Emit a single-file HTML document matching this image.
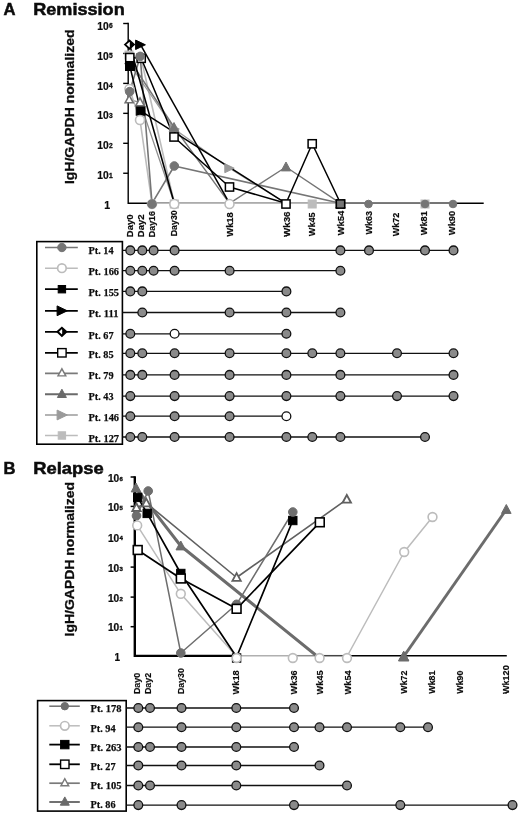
<!DOCTYPE html>
<html><head><meta charset="utf-8"><title>Figure</title>
<style>
html,body{margin:0;padding:0;background:#fff;}
body{width:520px;height:815px;overflow:hidden;font-family:"Liberation Sans",sans-serif;}
svg{display:block;filter:grayscale(1);}
text{font-family:"Liberation Sans",sans-serif;font-weight:bold;fill:#0c0c0c;}
.ser{font-family:"Liberation Serif",serif;font-weight:bold;font-size:11.2px;fill:#0c0c0c;stroke:#0c0c0c;stroke-width:0.25px;}
.ttl{font-size:16.6px;stroke:#0c0c0c;stroke-width:0.5px;}
.yl{font-size:12.9px;stroke:#0c0c0c;stroke-width:0.3px;}
.tk{font-size:10.6px;stroke:#0c0c0c;stroke-width:0.2px;}
.tkb{font-size:10px;stroke:#0c0c0c;stroke-width:0.2px;}
.ex{font-size:6.6px;stroke-width:0.3px;}
.exb{font-size:6px;stroke-width:0.35px;}
.xl{font-size:9.8px;stroke:#0c0c0c;stroke-width:0.2px;}
.xlb{font-size:8.2px;stroke:#0c0c0c;stroke-width:0.15px;}
</style></head><body>
<svg width="520" height="815" viewBox="0 0 520 815">
<rect width="520" height="815" fill="#fff"/>

<text class="ttl" x="3.6" y="14.5">A</text>
<text class="ttl" x="33.2" y="14.5" textLength="91.5" lengthAdjust="spacingAndGlyphs">Remission</text>
<text class="ttl" x="3.4" y="474">B</text>
<text class="ttl" x="33.2" y="474" textLength="70.5" lengthAdjust="spacingAndGlyphs">Relapse</text>
<text class="yl" transform="translate(73.6,106.8) rotate(-90)" text-anchor="middle" textLength="154.5" lengthAdjust="spacingAndGlyphs">IgH/GAPDH normalized</text>
<text class="yl" transform="translate(73.6,559.2) rotate(-90)" text-anchor="middle" textLength="154.5" lengthAdjust="spacingAndGlyphs">IgH/GAPDH normalized</text>
<path d="M128.2,22.8 L128.2,203.2 L483.7,203.2" fill="none" stroke="#000" stroke-width="1.4"/>
<line x1="123.19999999999999" y1="173.25" x2="128.2" y2="173.25" stroke="#000" stroke-width="1.4"/>
<line x1="123.19999999999999" y1="143.29999999999998" x2="128.2" y2="143.29999999999998" stroke="#000" stroke-width="1.4"/>
<line x1="123.19999999999999" y1="113.35" x2="128.2" y2="113.35" stroke="#000" stroke-width="1.4"/>
<line x1="123.19999999999999" y1="83.39999999999999" x2="128.2" y2="83.39999999999999" stroke="#000" stroke-width="1.4"/>
<line x1="123.19999999999999" y1="53.44999999999999" x2="128.2" y2="53.44999999999999" stroke="#000" stroke-width="1.4"/>
<line x1="123.19999999999999" y1="23.5" x2="128.2" y2="23.5" stroke="#000" stroke-width="1.4"/>
<text class="tk" x="104.3" y="209.29999999999998">1</text>
<text class="tk" x="97.2" y="179.35"><tspan textLength="11.5" lengthAdjust="spacingAndGlyphs">10</tspan><tspan class="ex" dx="0.3" dy="-1.5">1</tspan></text>
<text class="tk" x="97.2" y="149.39999999999998"><tspan textLength="11.5" lengthAdjust="spacingAndGlyphs">10</tspan><tspan class="ex" dx="0.3" dy="-1.5">2</tspan></text>
<text class="tk" x="97.2" y="119.44999999999999"><tspan textLength="11.5" lengthAdjust="spacingAndGlyphs">10</tspan><tspan class="ex" dx="0.3" dy="-1.5">3</tspan></text>
<text class="tk" x="97.2" y="89.49999999999999"><tspan textLength="11.5" lengthAdjust="spacingAndGlyphs">10</tspan><tspan class="ex" dx="0.3" dy="-1.5">4</tspan></text>
<text class="tk" x="97.2" y="59.54999999999999"><tspan textLength="11.5" lengthAdjust="spacingAndGlyphs">10</tspan><tspan class="ex" dx="0.3" dy="-1.5">5</tspan></text>
<text class="tk" x="97.2" y="29.6"><tspan textLength="11.5" lengthAdjust="spacingAndGlyphs">10</tspan><tspan class="ex" dx="0.3" dy="-1.5">6</tspan></text>
<text class="xl" transform="translate(133.20000000000002,237.2) rotate(-90)" text-anchor="start" textLength="22.8" lengthAdjust="spacingAndGlyphs">Day0</text>
<text class="xl" transform="translate(143.9,237.2) rotate(-90)" text-anchor="start" textLength="22.8" lengthAdjust="spacingAndGlyphs">Day2</text>
<text class="xl" transform="translate(155.3,237.2) rotate(-90)" text-anchor="start" textLength="26.2" lengthAdjust="spacingAndGlyphs">Day16</text>
<text class="xl" transform="translate(177.1,236.3) rotate(-90)" text-anchor="start" textLength="26.0" lengthAdjust="spacingAndGlyphs">Day30</text>
<text class="xl" transform="translate(232.5,236.7) rotate(-90)" text-anchor="start" textLength="24.5" lengthAdjust="spacingAndGlyphs">Wk18</text>
<text class="xl" transform="translate(289.59999999999997,237) rotate(-90)" text-anchor="start" textLength="25.5" lengthAdjust="spacingAndGlyphs">Wk36</text>
<text class="xl" transform="translate(315.2,236.2) rotate(-90)" text-anchor="start" textLength="23.8" lengthAdjust="spacingAndGlyphs">Wk45</text>
<text class="xl" transform="translate(343.59999999999997,235.6) rotate(-90)" text-anchor="start" textLength="25.0" lengthAdjust="spacingAndGlyphs">Wk54</text>
<text class="xl" transform="translate(371.59999999999997,234.6) rotate(-90)" text-anchor="start" textLength="23.5" lengthAdjust="spacingAndGlyphs">Wk63</text>
<text class="xl" transform="translate(399.09999999999997,236.2) rotate(-90)" text-anchor="start" textLength="23.5" lengthAdjust="spacingAndGlyphs">Wk72</text>
<text class="xl" transform="translate(427.0,235.2) rotate(-90)" text-anchor="start" textLength="24.0" lengthAdjust="spacingAndGlyphs">Wk81</text>
<text class="xl" transform="translate(455.09999999999997,235.2) rotate(-90)" text-anchor="start" textLength="24.5" lengthAdjust="spacingAndGlyphs">Wk90</text>
<path d="M129.5,55.0 L141.0,58.0 L174.3,203.3 L425.0,203.3" fill="none" stroke="#bcbcbc" stroke-width="1.6" stroke-linejoin="round"/>
<path d="M129.5,64.0 L174.3,129.0 L229.5,168.2 L286.0,203.3" fill="none" stroke="#9a9a9a" stroke-width="1.3" stroke-linejoin="round"/>
<path d="M129.5,60.0 L174.3,127.5 L229.5,203.3 L286.0,167.0 L340.5,203.3 L453.0,203.3" fill="none" stroke="#757575" stroke-width="1.4" stroke-linejoin="round"/>
<path d="M129.2,99.6 L140.0,102.4 L174.3,203.3" fill="none" stroke="#8e8e8e" stroke-width="1.3" stroke-linejoin="round"/>
<path d="M129.5,89.0 L140.0,120.0 L152.0,203.3 L340.5,203.3" fill="none" stroke="#bcbcbc" stroke-width="1.6" stroke-linejoin="round"/>
<path d="M129.7,91.6 L140.2,56.4 L152.0,203.3 L174.3,166.0 L340.5,203.3 L453.0,203.3" fill="none" stroke="#757575" stroke-width="1.6" stroke-linejoin="round"/>
<path d="M129.8,66.0 L140.6,110.8 L286.0,203.3" fill="none" stroke="#000" stroke-width="1.5" stroke-linejoin="round"/>
<path d="M140.5,44.6 L229.5,203.3" fill="none" stroke="#000" stroke-width="1.5" stroke-linejoin="round"/>
<path d="M129.5,44.1 L174.3,203.3" fill="none" stroke="#000" stroke-width="1.6" stroke-linejoin="round"/>
<path d="M129.8,57.6 L141.2,58.3 L174.0,137.0 L229.5,187.0 L286.0,203.3 L312.2,143.8 L340.5,203.3" fill="none" stroke="#000" stroke-width="1.5" stroke-linejoin="round"/>
<rect x="125.00" y="51.00" width="8.0" height="8.0" fill="#bcbcbc" stroke="#bcbcbc" stroke-width="1"/>
<rect x="137.00" y="54.00" width="8.0" height="8.0" fill="#bcbcbc" stroke="#bcbcbc" stroke-width="1"/>
<rect x="170.30" y="200.00" width="8.0" height="8.0" fill="#bcbcbc" stroke="#bcbcbc" stroke-width="1"/>
<rect x="308.20" y="200.00" width="8.0" height="8.0" fill="#bcbcbc" stroke="#bcbcbc" stroke-width="1"/>
<rect x="421.00" y="200.00" width="8.0" height="8.0" fill="#bcbcbc" stroke="#bcbcbc" stroke-width="1"/>
<path d="M169.90,124.50 L179.30,129 L169.90,133.50 Z" fill="#9a9a9a" stroke="#9a9a9a" stroke-width="1"/>
<path d="M224.80,163.70 L234.20,168.2 L224.80,172.70 Z" fill="#9a9a9a" stroke="#9a9a9a" stroke-width="1"/>
<path d="M124.70,63.90 L134.30,63.90 L129.5,55.00 Z" fill="#757575" stroke="#757575" stroke-width="1"/>
<path d="M169.20,131.40 L178.80,131.40 L174,122.50 Z" fill="#757575" stroke="#757575" stroke-width="1"/>
<path d="M281.20,170.90 L290.80,170.90 L286,162.00 Z" fill="#757575" stroke="#757575" stroke-width="1"/>
<path d="M335.70,207.90 L345.30,207.90 L340.5,199.00 Z" fill="#757575" stroke="#757575" stroke-width="1"/>
<rect x="125.50" y="61.50" width="9.0" height="9.0" fill="#000" stroke="#000" stroke-width="1"/>
<rect x="136.20" y="106.40" width="8.8" height="8.8" fill="#000" stroke="#000" stroke-width="1"/>
<path d="M125.10,102.80 L133.30,102.80 L129.2,95.30 Z" fill="#fff" stroke="#707070" stroke-width="1.5"/>
<path d="M135.70,105.80 L144.30,105.80 L140,97.90 Z" fill="#fff" stroke="#707070" stroke-width="1.5"/>
<circle cx="129.5" cy="89" r="4.5" fill="#fff" stroke="#bcbcbc" stroke-width="1.6"/>
<circle cx="140" cy="120" r="4.5" fill="#fff" stroke="#bcbcbc" stroke-width="1.6"/>
<circle cx="152" cy="204.0" r="4.5" fill="#fff" stroke="#bcbcbc" stroke-width="1.6"/>
<circle cx="174.3" cy="204.0" r="4.5" fill="#fff" stroke="#bcbcbc" stroke-width="1.6"/>
<circle cx="229.5" cy="204.0" r="4.5" fill="#fff" stroke="#bcbcbc" stroke-width="1.6"/>
<rect x="125.70" y="53.50" width="8.2" height="8.2" fill="#fff" stroke="#000" stroke-width="1.5"/>
<rect x="137.10" y="54.20" width="8.2" height="8.2" fill="#fff" stroke="#000" stroke-width="1.5"/>
<rect x="169.90" y="132.90" width="8.2" height="8.2" fill="#fff" stroke="#000" stroke-width="1.5"/>
<rect x="225.40" y="182.90" width="8.2" height="8.2" fill="#fff" stroke="#000" stroke-width="1.5"/>
<rect x="281.90" y="199.90" width="8.2" height="8.2" fill="#fff" stroke="#000" stroke-width="1.5"/>
<rect x="308.10" y="139.70" width="8.2" height="8.2" fill="#fff" stroke="#000" stroke-width="1.5"/>
<rect x="336.40" y="199.90" width="8.2" height="8.2" fill="#fff" stroke="#000" stroke-width="1.5"/>
<circle cx="129.7" cy="91.6" r="4.3" fill="#757575" stroke="#757575" stroke-width="1"/>
<circle cx="140.2" cy="56.4" r="4.3" fill="#757575" stroke="#757575" stroke-width="1"/>
<circle cx="152" cy="204.0" r="4.3" fill="#757575" stroke="#757575" stroke-width="1"/>
<circle cx="174.3" cy="166" r="4.3" fill="#757575" stroke="#757575" stroke-width="1"/>
<circle cx="340.5" cy="204.0" r="4.3" fill="#757575" stroke="#757575" stroke-width="1"/>
<circle cx="368.5" cy="204.0" r="3.8" fill="#757575" stroke="#757575" stroke-width="1"/>
<circle cx="425" cy="204.0" r="3.8" fill="#757575" stroke="#757575" stroke-width="1"/>
<circle cx="453" cy="204.0" r="3.8" fill="#757575" stroke="#757575" stroke-width="1"/>
<path d="M135.60,40.10 L145.40,44.8 L135.60,49.50 Z" fill="#000" stroke="#000" stroke-width="1"/>
<path d="M125.00,44.6 L129.5,40.50 L134.00,44.6 L129.5,48.70 Z" fill="#fff" stroke="#000" stroke-width="1.7999999999999998"/><path d="M129.8,40.50 L134.00,44.6 L129.8,48.70 Z" fill="#000"/>
<rect x="336.4" y="199.9" width="8.2" height="8.2" fill="none" stroke="#000" stroke-width="1.4"/>
<rect x="36.8" y="241.6" width="85.6" height="202.6" fill="#fff" stroke="#000" stroke-width="1.6"/>
<line x1="45" y1="247.5" x2="77.8" y2="247.5" stroke="#757575" stroke-width="1.5"/>
<circle cx="61.9" cy="247.5" r="4.2" fill="#757575" stroke="#757575" stroke-width="1.0"/>
<text class="ser" x="88.5" y="254.1" textLength="25" lengthAdjust="spacingAndGlyphs">Pt. 14</text>
<line x1="122.5" y1="250.4" x2="453.5" y2="250.4" stroke="#111" stroke-width="1.3"/>
<circle cx="130.3" cy="250.4" r="4.4" fill="#8a8a8a" stroke="#111" stroke-width="1.3"/>
<circle cx="142.3" cy="250.4" r="4.4" fill="#8a8a8a" stroke="#111" stroke-width="1.3"/>
<circle cx="153.6" cy="250.4" r="4.4" fill="#8a8a8a" stroke="#111" stroke-width="1.3"/>
<circle cx="174.6" cy="250.4" r="4.4" fill="#8a8a8a" stroke="#111" stroke-width="1.3"/>
<circle cx="340.4" cy="250.4" r="4.4" fill="#8a8a8a" stroke="#111" stroke-width="1.3"/>
<circle cx="369" cy="250.4" r="4.4" fill="#8a8a8a" stroke="#111" stroke-width="1.3"/>
<circle cx="425" cy="250.4" r="4.4" fill="#8a8a8a" stroke="#111" stroke-width="1.3"/>
<circle cx="453.5" cy="250.4" r="4.4" fill="#8a8a8a" stroke="#111" stroke-width="1.3"/>
<line x1="45" y1="268.2" x2="77.8" y2="268.2" stroke="#bcbcbc" stroke-width="1.5"/>
<circle cx="61.9" cy="268.2" r="4.3" fill="#fff" stroke="#bcbcbc" stroke-width="1.7"/>
<text class="ser" x="88.5" y="274.6" textLength="30.5" lengthAdjust="spacingAndGlyphs">Pt. 166</text>
<line x1="122.5" y1="270.7" x2="340.4" y2="270.7" stroke="#111" stroke-width="1.3"/>
<circle cx="130.3" cy="270.7" r="4.4" fill="#8a8a8a" stroke="#111" stroke-width="1.3"/>
<circle cx="142.3" cy="270.7" r="4.4" fill="#8a8a8a" stroke="#111" stroke-width="1.3"/>
<circle cx="153.6" cy="270.7" r="4.4" fill="#8a8a8a" stroke="#111" stroke-width="1.3"/>
<circle cx="174.6" cy="270.7" r="4.4" fill="#8a8a8a" stroke="#111" stroke-width="1.3"/>
<circle cx="229.6" cy="270.7" r="4.4" fill="#8a8a8a" stroke="#111" stroke-width="1.3"/>
<circle cx="340.4" cy="270.7" r="4.4" fill="#8a8a8a" stroke="#111" stroke-width="1.3"/>
<line x1="45" y1="289.2" x2="77.8" y2="289.2" stroke="#000" stroke-width="1.8"/>
<rect x="58.20" y="285.50" width="7.4" height="7.4" fill="#000" stroke="#000" stroke-width="1.0"/>
<text class="ser" x="88.5" y="296.1" textLength="30.5" lengthAdjust="spacingAndGlyphs">Pt. 155</text>
<line x1="122.5" y1="291.4" x2="286.4" y2="291.4" stroke="#111" stroke-width="1.3"/>
<circle cx="130.3" cy="291.4" r="4.4" fill="#8a8a8a" stroke="#111" stroke-width="1.3"/>
<circle cx="142.3" cy="291.4" r="4.4" fill="#8a8a8a" stroke="#111" stroke-width="1.3"/>
<circle cx="286.4" cy="291.4" r="4.4" fill="#8a8a8a" stroke="#111" stroke-width="1.3"/>
<line x1="45" y1="310.8" x2="77.8" y2="310.8" stroke="#000" stroke-width="1.8"/>
<path d="M57.10,305.90 L67.30,310.8 L57.10,315.70 Z" fill="#000" stroke="#000" stroke-width="1.0"/>
<text class="ser" x="88.5" y="317.2" textLength="30" lengthAdjust="spacingAndGlyphs">Pt. 111</text>
<line x1="122.5" y1="312.5" x2="340.4" y2="312.5" stroke="#111" stroke-width="1.3"/>
<circle cx="142.3" cy="312.5" r="4.4" fill="#8a8a8a" stroke="#111" stroke-width="1.3"/>
<circle cx="229.6" cy="312.5" r="4.4" fill="#8a8a8a" stroke="#111" stroke-width="1.3"/>
<circle cx="286.4" cy="312.5" r="4.4" fill="#8a8a8a" stroke="#111" stroke-width="1.3"/>
<circle cx="340.4" cy="312.5" r="4.4" fill="#8a8a8a" stroke="#111" stroke-width="1.3"/>
<line x1="45" y1="331.8" x2="77.8" y2="331.8" stroke="#000" stroke-width="1.8"/>
<path d="M57.50,331.8 L61.9,327.80 L66.30,331.8 L61.9,335.80 Z" fill="#fff" stroke="#000" stroke-width="2.0"/><path d="M62.199999999999996,327.80 L66.30,331.8 L62.199999999999996,335.80 Z" fill="#000"/>
<text class="ser" x="88.5" y="338.6" textLength="25" lengthAdjust="spacingAndGlyphs">Pt. 67</text>
<line x1="122.5" y1="333.8" x2="286.4" y2="333.8" stroke="#111" stroke-width="1.3"/>
<circle cx="130.3" cy="333.8" r="4.4" fill="#8a8a8a" stroke="#111" stroke-width="1.3"/>
<circle cx="174.6" cy="333.8" r="4.4" fill="#fff" stroke="#111" stroke-width="1.3"/>
<circle cx="286.4" cy="333.8" r="4.4" fill="#8a8a8a" stroke="#111" stroke-width="1.3"/>
<line x1="45" y1="352.8" x2="77.8" y2="352.8" stroke="#000" stroke-width="1.8"/>
<rect x="57.70" y="348.60" width="8.4" height="8.4" fill="#fff" stroke="#000" stroke-width="1.4"/>
<text class="ser" x="88.5" y="358.3" textLength="25" lengthAdjust="spacingAndGlyphs">Pt. 85</text>
<line x1="122.5" y1="353.3" x2="453.5" y2="353.3" stroke="#111" stroke-width="1.3"/>
<circle cx="130.3" cy="353.3" r="4.4" fill="#8a8a8a" stroke="#111" stroke-width="1.3"/>
<circle cx="142.3" cy="353.3" r="4.4" fill="#8a8a8a" stroke="#111" stroke-width="1.3"/>
<circle cx="174.6" cy="353.3" r="4.4" fill="#8a8a8a" stroke="#111" stroke-width="1.3"/>
<circle cx="229.6" cy="353.3" r="4.4" fill="#8a8a8a" stroke="#111" stroke-width="1.3"/>
<circle cx="286.4" cy="353.3" r="4.4" fill="#8a8a8a" stroke="#111" stroke-width="1.3"/>
<circle cx="312.3" cy="353.3" r="4.4" fill="#8a8a8a" stroke="#111" stroke-width="1.3"/>
<circle cx="340.4" cy="353.3" r="4.4" fill="#8a8a8a" stroke="#111" stroke-width="1.3"/>
<circle cx="397" cy="353.3" r="4.4" fill="#8a8a8a" stroke="#111" stroke-width="1.3"/>
<circle cx="453.5" cy="353.3" r="4.4" fill="#8a8a8a" stroke="#111" stroke-width="1.3"/>
<line x1="45" y1="373.3" x2="77.8" y2="373.3" stroke="#7a7a7a" stroke-width="1.7"/>
<path d="M58.00,375.90 L65.80,375.90 L61.9,368.80 Z" fill="#fff" stroke="#7a7a7a" stroke-width="1.4"/>
<text class="ser" x="88.5" y="379.2" textLength="25" lengthAdjust="spacingAndGlyphs">Pt. 79</text>
<line x1="122.5" y1="374.9" x2="453.5" y2="374.9" stroke="#111" stroke-width="1.3"/>
<circle cx="130.3" cy="374.9" r="4.4" fill="#8a8a8a" stroke="#111" stroke-width="1.3"/>
<circle cx="142.3" cy="374.9" r="4.4" fill="#8a8a8a" stroke="#111" stroke-width="1.3"/>
<circle cx="174.6" cy="374.9" r="4.4" fill="#8a8a8a" stroke="#111" stroke-width="1.3"/>
<circle cx="229.6" cy="374.9" r="4.4" fill="#8a8a8a" stroke="#111" stroke-width="1.3"/>
<circle cx="286.4" cy="374.9" r="4.4" fill="#8a8a8a" stroke="#111" stroke-width="1.3"/>
<circle cx="340.4" cy="374.9" r="4.4" fill="#8a8a8a" stroke="#111" stroke-width="1.3"/>
<circle cx="453.5" cy="374.9" r="4.4" fill="#8a8a8a" stroke="#111" stroke-width="1.3"/>
<line x1="45" y1="394.3" x2="77.8" y2="394.3" stroke="#6a6a6a" stroke-width="1.9"/>
<path d="M57.40,397.50 L66.40,397.50 L61.9,389.20 Z" fill="#6a6a6a" stroke="#6a6a6a" stroke-width="1.0"/>
<text class="ser" x="88.5" y="400.2" textLength="25" lengthAdjust="spacingAndGlyphs">Pt. 43</text>
<line x1="122.5" y1="396.1" x2="453.5" y2="396.1" stroke="#111" stroke-width="1.3"/>
<circle cx="130.3" cy="396.1" r="4.4" fill="#8a8a8a" stroke="#111" stroke-width="1.3"/>
<circle cx="174.6" cy="396.1" r="4.4" fill="#8a8a8a" stroke="#111" stroke-width="1.3"/>
<circle cx="229.6" cy="396.1" r="4.4" fill="#8a8a8a" stroke="#111" stroke-width="1.3"/>
<circle cx="286.4" cy="396.1" r="4.4" fill="#8a8a8a" stroke="#111" stroke-width="1.3"/>
<circle cx="340.4" cy="396.1" r="4.4" fill="#8a8a8a" stroke="#111" stroke-width="1.3"/>
<circle cx="397" cy="396.1" r="4.4" fill="#8a8a8a" stroke="#111" stroke-width="1.3"/>
<circle cx="453.5" cy="396.1" r="4.4" fill="#8a8a8a" stroke="#111" stroke-width="1.3"/>
<line x1="45" y1="415" x2="77.8" y2="415" stroke="#9a9a9a" stroke-width="1.5"/>
<path d="M57.10,410.10 L67.30,415 L57.10,419.90 Z" fill="#9a9a9a" stroke="#9a9a9a" stroke-width="1.0"/>
<text class="ser" x="88.5" y="421.2" textLength="30.5" lengthAdjust="spacingAndGlyphs">Pt. 146</text>
<line x1="122.5" y1="416.2" x2="286.4" y2="416.2" stroke="#111" stroke-width="1.3"/>
<circle cx="130.3" cy="416.2" r="4.4" fill="#8a8a8a" stroke="#111" stroke-width="1.3"/>
<circle cx="174.6" cy="416.2" r="4.4" fill="#8a8a8a" stroke="#111" stroke-width="1.3"/>
<circle cx="229.6" cy="416.2" r="4.4" fill="#8a8a8a" stroke="#111" stroke-width="1.3"/>
<circle cx="286.4" cy="416.2" r="4.4" fill="#fff" stroke="#111" stroke-width="1.3"/>
<line x1="45" y1="435.5" x2="77.8" y2="435.5" stroke="#bcbcbc" stroke-width="1.5"/>
<rect x="58.20" y="431.80" width="7.4" height="7.4" fill="#bcbcbc" stroke="#bcbcbc" stroke-width="1.0"/>
<text class="ser" x="88.5" y="441.9" textLength="30.5" lengthAdjust="spacingAndGlyphs">Pt. 127</text>
<line x1="122.5" y1="437" x2="425" y2="437" stroke="#111" stroke-width="1.3"/>
<circle cx="130.3" cy="437" r="4.4" fill="#8a8a8a" stroke="#111" stroke-width="1.3"/>
<circle cx="142.3" cy="437" r="4.4" fill="#8a8a8a" stroke="#111" stroke-width="1.3"/>
<circle cx="174.6" cy="437" r="4.4" fill="#8a8a8a" stroke="#111" stroke-width="1.3"/>
<circle cx="229.6" cy="437" r="4.4" fill="#8a8a8a" stroke="#111" stroke-width="1.3"/>
<circle cx="286.4" cy="437" r="4.4" fill="#8a8a8a" stroke="#111" stroke-width="1.3"/>
<circle cx="312.3" cy="437" r="4.4" fill="#8a8a8a" stroke="#111" stroke-width="1.3"/>
<circle cx="340.4" cy="437" r="4.4" fill="#8a8a8a" stroke="#111" stroke-width="1.3"/>
<circle cx="425" cy="437" r="4.4" fill="#8a8a8a" stroke="#111" stroke-width="1.3"/>
<path d="M134.8,476.2 L134.8,655.9 L237,655.9" fill="none" stroke="#000" stroke-width="2.4" stroke-linejoin="miter"/>
<line x1="237" y1="655.6999999999999" x2="293" y2="655.6999999999999" stroke="#b0b0b0" stroke-width="1.5"/>
<line x1="293" y1="655.6999999999999" x2="320" y2="655.6999999999999" stroke="#8a8a8a" stroke-width="1.5"/>
<line x1="320" y1="655.6999999999999" x2="347" y2="655.6999999999999" stroke="#444" stroke-width="1.5"/>
<line x1="347" y1="655.6999999999999" x2="506.8" y2="655.6999999999999" stroke="#000" stroke-width="1.6"/>
<line x1="130.60000000000002" y1="626.7" x2="134.8" y2="626.7" stroke="#000" stroke-width="1.5"/>
<line x1="130.60000000000002" y1="597.1" x2="134.8" y2="597.1" stroke="#000" stroke-width="1.5"/>
<line x1="130.60000000000002" y1="567.1" x2="134.8" y2="567.1" stroke="#000" stroke-width="1.5"/>
<line x1="130.60000000000002" y1="506.4" x2="134.8" y2="506.4" stroke="#000" stroke-width="1.5"/>
<line x1="130.60000000000002" y1="477.0" x2="134.8" y2="477.0" stroke="#000" stroke-width="1.5"/>
<text class="tkb" x="114.6" y="661.2">1</text>
<text class="tkb" x="107.9" y="631.4000000000001"><tspan textLength="11.3" lengthAdjust="spacingAndGlyphs">10</tspan><tspan class="exb" dx="0.3" dy="-1.2">1</tspan></text>
<text class="tkb" x="107.9" y="601.8000000000001"><tspan textLength="11.3" lengthAdjust="spacingAndGlyphs">10</tspan><tspan class="exb" dx="0.3" dy="-1.2">2</tspan></text>
<text class="tkb" x="107.9" y="571.8000000000001"><tspan textLength="11.3" lengthAdjust="spacingAndGlyphs">10</tspan><tspan class="exb" dx="0.3" dy="-1.2">3</tspan></text>
<text class="tkb" x="107.9" y="541.5"><tspan textLength="11.3" lengthAdjust="spacingAndGlyphs">10</tspan><tspan class="exb" dx="0.3" dy="-1.2">4</tspan></text>
<text class="tkb" x="107.9" y="511.09999999999997"><tspan textLength="11.3" lengthAdjust="spacingAndGlyphs">10</tspan><tspan class="exb" dx="0.3" dy="-1.2">5</tspan></text>
<text class="tkb" x="107.9" y="481.7"><tspan textLength="11.3" lengthAdjust="spacingAndGlyphs">10</tspan><tspan class="exb" dx="0.3" dy="-1.2">6</tspan></text>
<text class="xlb" transform="translate(139.70000000000002,694.1) rotate(-90)" text-anchor="start" textLength="21.400000000000002" lengthAdjust="spacingAndGlyphs">Day0</text>
<text class="xlb" transform="translate(150.60000000000002,694.1) rotate(-90)" text-anchor="start" textLength="21.400000000000002" lengthAdjust="spacingAndGlyphs">Day2</text>
<text class="xlb" transform="translate(184.20000000000002,694.1) rotate(-90)" text-anchor="start" textLength="26.0" lengthAdjust="spacingAndGlyphs">Day30</text>
<text class="xlb" transform="translate(239.4,694.4) rotate(-90)" text-anchor="start" textLength="24.1" lengthAdjust="spacingAndGlyphs">Wk18</text>
<text class="xlb" transform="translate(297.3,694.4) rotate(-90)" text-anchor="start" textLength="24.1" lengthAdjust="spacingAndGlyphs">Wk36</text>
<text class="xlb" transform="translate(322.50000000000006,694.4) rotate(-90)" text-anchor="start" textLength="24.1" lengthAdjust="spacingAndGlyphs">Wk45</text>
<text class="xlb" transform="translate(350.70000000000005,694.4) rotate(-90)" text-anchor="start" textLength="24.1" lengthAdjust="spacingAndGlyphs">Wk54</text>
<text class="xlb" transform="translate(406.90000000000003,693.6999999999999) rotate(-90)" text-anchor="start" textLength="23.1" lengthAdjust="spacingAndGlyphs">Wk72</text>
<text class="xlb" transform="translate(435.1,693.6999999999999) rotate(-90)" text-anchor="start" textLength="23.1" lengthAdjust="spacingAndGlyphs">Wk81</text>
<text class="xlb" transform="translate(462.6,693.6999999999999) rotate(-90)" text-anchor="start" textLength="23.1" lengthAdjust="spacingAndGlyphs">Wk90</text>
<text class="xlb" transform="translate(508.90000000000003,694.1) rotate(-90)" text-anchor="start" textLength="28.8" lengthAdjust="spacingAndGlyphs">Wk120</text>
<path d="M137.2,525.4 L180.8,593.8 L236.6,656.5" fill="none" stroke="#bcbcbc" stroke-width="1.5" stroke-linejoin="round"/>
<path d="M347.0,656.5 L404.2,552.0 L432.5,517.0" fill="none" stroke="#bcbcbc" stroke-width="1.5" stroke-linejoin="round"/>
<path d="M136.0,488.0 L180.8,546.0 L317.5,656.5" fill="none" stroke="#6c6c6c" stroke-width="3.0" stroke-linejoin="round"/>
<path d="M403.7,656.5 L506.3,509.5" fill="none" stroke="#6c6c6c" stroke-width="3.0" stroke-linejoin="round"/>
<path d="M136.5,507.7 L146.3,503.0 L236.6,577.5 L346.8,499.4" fill="none" stroke="#606060" stroke-width="1.6" stroke-linejoin="round"/>
<path d="M136.5,515.8 L148.2,491.0 L180.8,653.0 L236.6,604.3 L292.8,512.0" fill="none" stroke="#6e6e6e" stroke-width="1.5" stroke-linejoin="round"/>
<path d="M137.7,497.4 L147.2,513.4 L180.8,573.5 L236.6,657.0 L292.8,520.5" fill="none" stroke="#000" stroke-width="1.7" stroke-linejoin="round"/>
<path d="M137.7,550.0 L180.8,578.5 L236.6,608.8 L319.8,522.3" fill="none" stroke="#000" stroke-width="1.7" stroke-linejoin="round"/>
<path d="M131.20,491.90 L140.80,491.90 L136,483.00 Z" fill="#6c6c6c" stroke="#6c6c6c" stroke-width="1"/>
<path d="M176.00,549.90 L185.60,549.90 L180.8,541.00 Z" fill="#6c6c6c" stroke="#6c6c6c" stroke-width="1"/>
<path d="M398.90,660.40 L408.50,660.40 L403.7,651.50 Z" fill="#6c6c6c" stroke="#6c6c6c" stroke-width="1"/>
<path d="M501.50,513.40 L511.10,513.40 L506.3,504.50 Z" fill="#6c6c6c" stroke="#6c6c6c" stroke-width="1"/>
<rect x="133.50" y="493.20" width="8.4" height="8.4" fill="#000" stroke="#000" stroke-width="1"/>
<rect x="143.00" y="509.20" width="8.4" height="8.4" fill="#000" stroke="#000" stroke-width="1"/>
<rect x="176.60" y="569.30" width="8.4" height="8.4" fill="#000" stroke="#000" stroke-width="1"/>
<rect x="232.40" y="653.80" width="8.4" height="8.4" fill="#000" stroke="#000" stroke-width="1"/>
<rect x="288.60" y="516.30" width="8.4" height="8.4" fill="#000" stroke="#000" stroke-width="1"/>
<path d="M132.30,511.00 L140.70,511.00 L136.5,503.30 Z" fill="#fff" stroke="#606060" stroke-width="1.8"/>
<path d="M142.10,506.30 L150.50,506.30 L146.3,498.60 Z" fill="#fff" stroke="#606060" stroke-width="1.8"/>
<path d="M232.40,580.80 L240.80,580.80 L236.6,573.10 Z" fill="#fff" stroke="#606060" stroke-width="1.8"/>
<path d="M342.60,502.70 L351.00,502.70 L346.8,495.00 Z" fill="#fff" stroke="#606060" stroke-width="1.8"/>
<circle cx="136.5" cy="515.8" r="4.3" fill="#6e6e6e" stroke="#6e6e6e" stroke-width="1"/>
<circle cx="148.2" cy="491" r="4.3" fill="#6e6e6e" stroke="#6e6e6e" stroke-width="1"/>
<circle cx="180.8" cy="653" r="4.3" fill="#6e6e6e" stroke="#6e6e6e" stroke-width="1"/>
<circle cx="236.6" cy="604.3" r="4.3" fill="#6e6e6e" stroke="#6e6e6e" stroke-width="1"/>
<circle cx="292.8" cy="512" r="4.3" fill="#6e6e6e" stroke="#6e6e6e" stroke-width="1"/>
<rect x="133.30" y="545.60" width="8.8" height="8.8" fill="#fff" stroke="#000" stroke-width="1.6"/>
<rect x="176.40" y="574.10" width="8.8" height="8.8" fill="#fff" stroke="#000" stroke-width="1.6"/>
<rect x="232.20" y="604.40" width="8.8" height="8.8" fill="#fff" stroke="#000" stroke-width="1.6"/>
<rect x="315.40" y="517.90" width="8.8" height="8.8" fill="#fff" stroke="#000" stroke-width="1.6"/>
<circle cx="137.2" cy="525.4" r="4.4" fill="#fff" stroke="#bcbcbc" stroke-width="1.6"/>
<circle cx="180.8" cy="593.8" r="4.4" fill="#fff" stroke="#bcbcbc" stroke-width="1.6"/>
<circle cx="236.6" cy="658.0" r="4.4" fill="#fff" stroke="#bcbcbc" stroke-width="1.6"/>
<circle cx="292.8" cy="658.0" r="4.4" fill="#fff" stroke="#bcbcbc" stroke-width="1.6"/>
<circle cx="319.6" cy="658.0" r="4.4" fill="#fff" stroke="#bcbcbc" stroke-width="1.6"/>
<circle cx="347" cy="658.0" r="4.4" fill="#fff" stroke="#bcbcbc" stroke-width="1.6"/>
<circle cx="404.2" cy="552" r="4.4" fill="#fff" stroke="#bcbcbc" stroke-width="1.6"/>
<circle cx="432.5" cy="517" r="4.4" fill="#fff" stroke="#bcbcbc" stroke-width="1.6"/>
<path d="M398.50,661.00 L408.90,661.00 L403.7,651.30 Z" fill="#6c6c6c" stroke="#6c6c6c" stroke-width="1"/>
<rect x="37.6" y="700.6" width="88.6" height="110.5" fill="#fff" stroke="#000" stroke-width="1.6"/>
<line x1="49.3" y1="706.2" x2="79.8" y2="706.2" stroke="#6e6e6e" stroke-width="1.5"/>
<circle cx="64.8" cy="706.2" r="3.7" fill="#6e6e6e" stroke="#6e6e6e" stroke-width="1.0"/>
<text class="ser" x="90.6" y="712.3" textLength="31" lengthAdjust="spacingAndGlyphs">Pt. 178</text>
<line x1="126.2" y1="708" x2="294" y2="708" stroke="#111" stroke-width="1.3"/>
<circle cx="138.3" cy="708" r="4.4" fill="#8a8a8a" stroke="#111" stroke-width="1.3"/>
<circle cx="150" cy="708" r="4.4" fill="#8a8a8a" stroke="#111" stroke-width="1.3"/>
<circle cx="181.5" cy="708" r="4.4" fill="#8a8a8a" stroke="#111" stroke-width="1.3"/>
<circle cx="236.3" cy="708" r="4.4" fill="#8a8a8a" stroke="#111" stroke-width="1.3"/>
<circle cx="294" cy="708" r="4.4" fill="#8a8a8a" stroke="#111" stroke-width="1.3"/>
<line x1="49.3" y1="725.8" x2="79.8" y2="725.8" stroke="#bcbcbc" stroke-width="1.5"/>
<circle cx="64.8" cy="725.8" r="4.3" fill="#fff" stroke="#bcbcbc" stroke-width="1.7"/>
<text class="ser" x="90.6" y="731.5" textLength="25" lengthAdjust="spacingAndGlyphs">Pt. 94</text>
<line x1="126.2" y1="727.2" x2="428" y2="727.2" stroke="#111" stroke-width="1.3"/>
<circle cx="138.3" cy="727.2" r="4.4" fill="#8a8a8a" stroke="#111" stroke-width="1.3"/>
<circle cx="181.5" cy="727.2" r="4.4" fill="#8a8a8a" stroke="#111" stroke-width="1.3"/>
<circle cx="236.3" cy="727.2" r="4.4" fill="#8a8a8a" stroke="#111" stroke-width="1.3"/>
<circle cx="294" cy="727.2" r="4.4" fill="#8a8a8a" stroke="#111" stroke-width="1.3"/>
<circle cx="319.5" cy="727.2" r="4.4" fill="#8a8a8a" stroke="#111" stroke-width="1.3"/>
<circle cx="347" cy="727.2" r="4.4" fill="#8a8a8a" stroke="#111" stroke-width="1.3"/>
<circle cx="400.3" cy="727.2" r="4.4" fill="#8a8a8a" stroke="#111" stroke-width="1.3"/>
<circle cx="428" cy="727.2" r="4.4" fill="#8a8a8a" stroke="#111" stroke-width="1.3"/>
<line x1="49.3" y1="744.6" x2="79.8" y2="744.6" stroke="#000" stroke-width="1.8"/>
<rect x="60.60" y="740.40" width="8.4" height="8.4" fill="#000" stroke="#000" stroke-width="1.0"/>
<text class="ser" x="90.6" y="750.6" textLength="31" lengthAdjust="spacingAndGlyphs">Pt. 263</text>
<line x1="126.2" y1="747" x2="294" y2="747" stroke="#111" stroke-width="1.3"/>
<circle cx="138.3" cy="747" r="4.4" fill="#8a8a8a" stroke="#111" stroke-width="1.3"/>
<circle cx="150" cy="747" r="4.4" fill="#8a8a8a" stroke="#111" stroke-width="1.3"/>
<circle cx="181.5" cy="747" r="4.4" fill="#8a8a8a" stroke="#111" stroke-width="1.3"/>
<circle cx="236.3" cy="747" r="4.4" fill="#8a8a8a" stroke="#111" stroke-width="1.3"/>
<circle cx="294" cy="747" r="4.4" fill="#8a8a8a" stroke="#111" stroke-width="1.3"/>
<line x1="49.3" y1="764.3" x2="79.8" y2="764.3" stroke="#000" stroke-width="1.8"/>
<rect x="60.60" y="760.10" width="8.4" height="8.4" fill="#fff" stroke="#000" stroke-width="1.4"/>
<text class="ser" x="90.6" y="770.4" textLength="25" lengthAdjust="spacingAndGlyphs">Pt. 27</text>
<line x1="126.2" y1="765.5" x2="319.5" y2="765.5" stroke="#111" stroke-width="1.3"/>
<circle cx="138.3" cy="765.5" r="4.4" fill="#8a8a8a" stroke="#111" stroke-width="1.3"/>
<circle cx="181.5" cy="765.5" r="4.4" fill="#8a8a8a" stroke="#111" stroke-width="1.3"/>
<circle cx="236.3" cy="765.5" r="4.4" fill="#8a8a8a" stroke="#111" stroke-width="1.3"/>
<circle cx="319.5" cy="765.5" r="4.4" fill="#8a8a8a" stroke="#111" stroke-width="1.3"/>
<line x1="49.3" y1="783.2" x2="79.8" y2="783.2" stroke="#7a7a7a" stroke-width="1.7"/>
<path d="M60.90,785.80 L68.70,785.80 L64.8,778.70 Z" fill="#fff" stroke="#7a7a7a" stroke-width="1.4"/>
<text class="ser" x="90.6" y="789.2" textLength="31" lengthAdjust="spacingAndGlyphs">Pt. 105</text>
<line x1="126.2" y1="785.5" x2="347" y2="785.5" stroke="#111" stroke-width="1.3"/>
<circle cx="138.3" cy="785.5" r="4.4" fill="#8a8a8a" stroke="#111" stroke-width="1.3"/>
<circle cx="150" cy="785.5" r="4.4" fill="#8a8a8a" stroke="#111" stroke-width="1.3"/>
<circle cx="236.3" cy="785.5" r="4.4" fill="#8a8a8a" stroke="#111" stroke-width="1.3"/>
<circle cx="347" cy="785.5" r="4.4" fill="#8a8a8a" stroke="#111" stroke-width="1.3"/>
<line x1="49.3" y1="802.0" x2="79.8" y2="802.0" stroke="#6a6a6a" stroke-width="1.9"/>
<path d="M60.30,805.20 L69.30,805.20 L64.8,796.90 Z" fill="#6a6a6a" stroke="#6a6a6a" stroke-width="1.0"/>
<text class="ser" x="90.6" y="807.5" textLength="25" lengthAdjust="spacingAndGlyphs">Pt. 86</text>
<line x1="126.2" y1="805.1" x2="512.5" y2="805.1" stroke="#111" stroke-width="1.3"/>
<circle cx="138.3" cy="805.1" r="4.4" fill="#8a8a8a" stroke="#111" stroke-width="1.3"/>
<circle cx="181.5" cy="805.1" r="4.4" fill="#8a8a8a" stroke="#111" stroke-width="1.3"/>
<circle cx="294" cy="805.1" r="4.4" fill="#8a8a8a" stroke="#111" stroke-width="1.3"/>
<circle cx="400.3" cy="805.1" r="4.4" fill="#8a8a8a" stroke="#111" stroke-width="1.3"/>
<circle cx="512.5" cy="805.1" r="4.4" fill="#8a8a8a" stroke="#111" stroke-width="1.3"/>
</svg></body></html>
